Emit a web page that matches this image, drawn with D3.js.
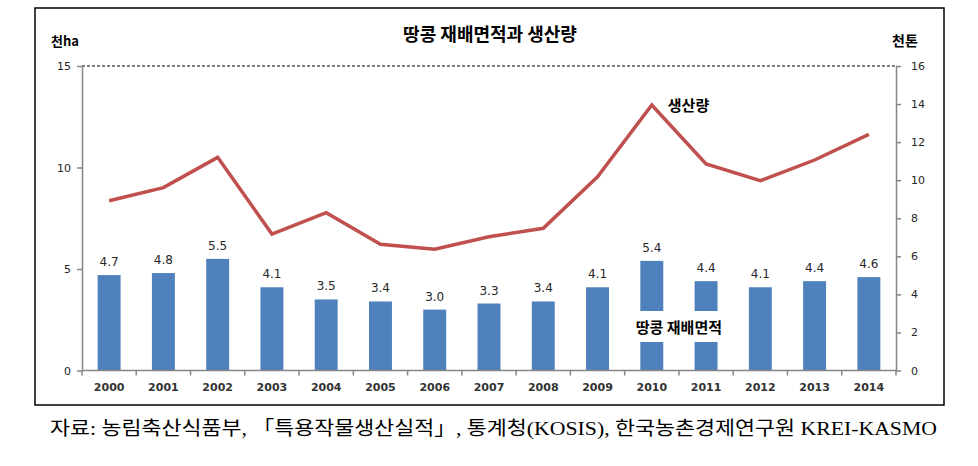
<!DOCTYPE html>
<html><head><meta charset="utf-8">
<script src="https://cdn.jsdelivr.net/npm/d3@7/dist/d3.min.js"></script>
<style>
body{margin:0;background:#fff;}
svg{display:block;}
</style></head>
<body>
<svg id="c" width="978" height="466"></svg>
<script>
const years = ["2000","2001","2002","2003","2004","2005","2006","2007","2008","2009","2010","2011","2012","2013","2014"];
const area = [4.7,4.8,5.5,4.1,3.5,3.4,3.0,3.3,3.4,4.1,5.4,4.4,4.1,4.4,4.6];
const production = [8.92,9.61,11.2,7.17,8.29,6.63,6.37,7.03,7.47,10.18,13.95,10.85,9.97,11.06,12.41];
const leftTicks = [0,5,10,15];
const rightTicks = [0,2,4,6,8,10,12,14,16];
const title = "땅콩 재배면적과 생산량";
const leftUnit = "천ha", rightUnit = "천톤";
const areaName = "땅콩 재배면적", prodName = "생산량";
const source = "자료: 농림축산식품부, 「특용작물생산실적」, 통계청(KOSIS), 한국농촌경제연구원 KREI-KASMO";

const svg = d3.select("#c");
const L = 82, R = 896, T = 66, B = 370.5;
const kr = "'Noto Sans CJK KR', sans-serif";
const num = "'DejaVu Sans', Verdana, sans-serif";
const axisCol = "#868686";

// frame
svg.append("rect").attr("x",35).attr("y",8).attr("width",909).attr("height",397)
  .attr("fill","none").attr("stroke","#000").attr("stroke-width",1.5);

const pad = 0.577;
const x = d3.scaleBand().domain(years).range([L,R]).paddingInner(pad).paddingOuter(pad/2);
const yL = d3.scaleLinear().domain([0,15]).range([B,T]);
const yR = d3.scaleLinear().domain([0,16]).range([B,T]);
const cx = d => x(d) + x.bandwidth()/2;

// top dashed gridline
svg.append("line").attr("x1",L).attr("x2",R).attr("y1",yL(15)).attr("y2",yL(15))
  .attr("stroke","#000").attr("stroke-width",1).attr("stroke-dasharray","3,2");

// bars
svg.append("g").selectAll("rect").data(years).join("rect")
  .attr("x",d=>x(d)).attr("width",x.bandwidth())
  .attr("y",(d,i)=>yL(area[i])).attr("height",(d,i)=>yL(0)-yL(area[i]))
  .attr("fill","#4F81BD");

// bar labels
svg.append("g").selectAll("text").data(years).join("text")
  .attr("x",d=>cx(d)).attr("y",(d,i)=>yL(area[i])-9)
  .attr("text-anchor","middle").attr("font-family",num).attr("font-size",12)
  .attr("fill","#262626").text((d,i)=>area[i].toFixed(1));

// line
const line = d3.line().x((d,i)=>cx(years[i])).y(d=>yR(d));
svg.append("path").datum(production).attr("d",line)
  .attr("fill","none").attr("stroke","#C0504D").attr("stroke-width",3.5)
  .attr("stroke-linejoin","miter");

// left axis
const gl = svg.append("g").attr("transform",`translate(${L},0)`)
  .call(d3.axisLeft(yL).tickValues(leftTicks).tickSize(5).tickSizeOuter(0).tickPadding(6));
// right axis
const gr = svg.append("g").attr("transform",`translate(${R},0)`)
  .call(d3.axisRight(yR).tickValues(rightTicks).tickSize(5).tickSizeOuter(0).tickPadding(10));
// bottom axis
const gb = svg.append("g").attr("transform",`translate(0,${B})`)
  .call(d3.axisBottom(x).tickSize(0).tickSizeOuter(0).tickPadding(13));
[gl,gr,gb].forEach(g=>{
  g.selectAll("path,line").attr("stroke",axisCol).attr("stroke-width",1.5);
  g.selectAll("text").attr("font-family",num).attr("font-size",11).attr("fill","#262626");
});
gb.selectAll("text").attr("font-weight","bold").attr("fill","#333");
gb.select("path.domain").attr("d",`M${L},0H${R}`);
// category boundary ticks
const idx = d3.range(years.length+1);
const step = x.step();
gb.selectAll("line.b").data(idx).join("line").attr("class","b")
  .attr("x1",i=>L+i*step).attr("x2",i=>L+i*step).attr("y1",0).attr("y2",5)
  .attr("stroke",axisCol).attr("stroke-width",1.5);

// title and units
svg.append("text").attr("x",490).attr("y",41).attr("text-anchor","middle")
  .attr("font-family",kr).attr("font-weight","bold").attr("font-size",18).attr("fill","#000").text(title);
svg.append("text").attr("x",51).attr("y",46)
  .attr("font-family",kr).attr("font-weight","bold").attr("font-size",13).attr("fill","#000").text(leftUnit);
svg.append("text").attr("x",892).attr("y",46)
  .attr("font-family",kr).attr("font-weight","bold").attr("font-size",14).attr("fill","#000").text(rightUnit);

// series labels
svg.append("text").attr("x",cx("2010")+16).attr("y",yR(production[10])+6)
  .attr("font-family",kr).attr("font-weight","bold").attr("font-size",15).attr("fill","#000").text(prodName);
const mx = (cx("2010")+cx("2011"))/2;
svg.append("rect").attr("x",mx-56).attr("y",311).attr("width",112).attr("height",31).attr("fill","#fff");
svg.append("text").attr("x",mx).attr("y",333).attr("text-anchor","middle")
  .attr("font-family",kr).attr("font-weight","bold").attr("font-size",15).attr("fill","#000").text(areaName);

// source
svg.append("text").attr("x",50).attr("y",435)
  .attr("font-family","'Liberation Serif','Noto Sans CJK KR',serif").attr("font-size",19)
  .attr("textLength",887).attr("lengthAdjust","spacingAndGlyphs").attr("fill","#000").text(source);
</script>
</body></html>
